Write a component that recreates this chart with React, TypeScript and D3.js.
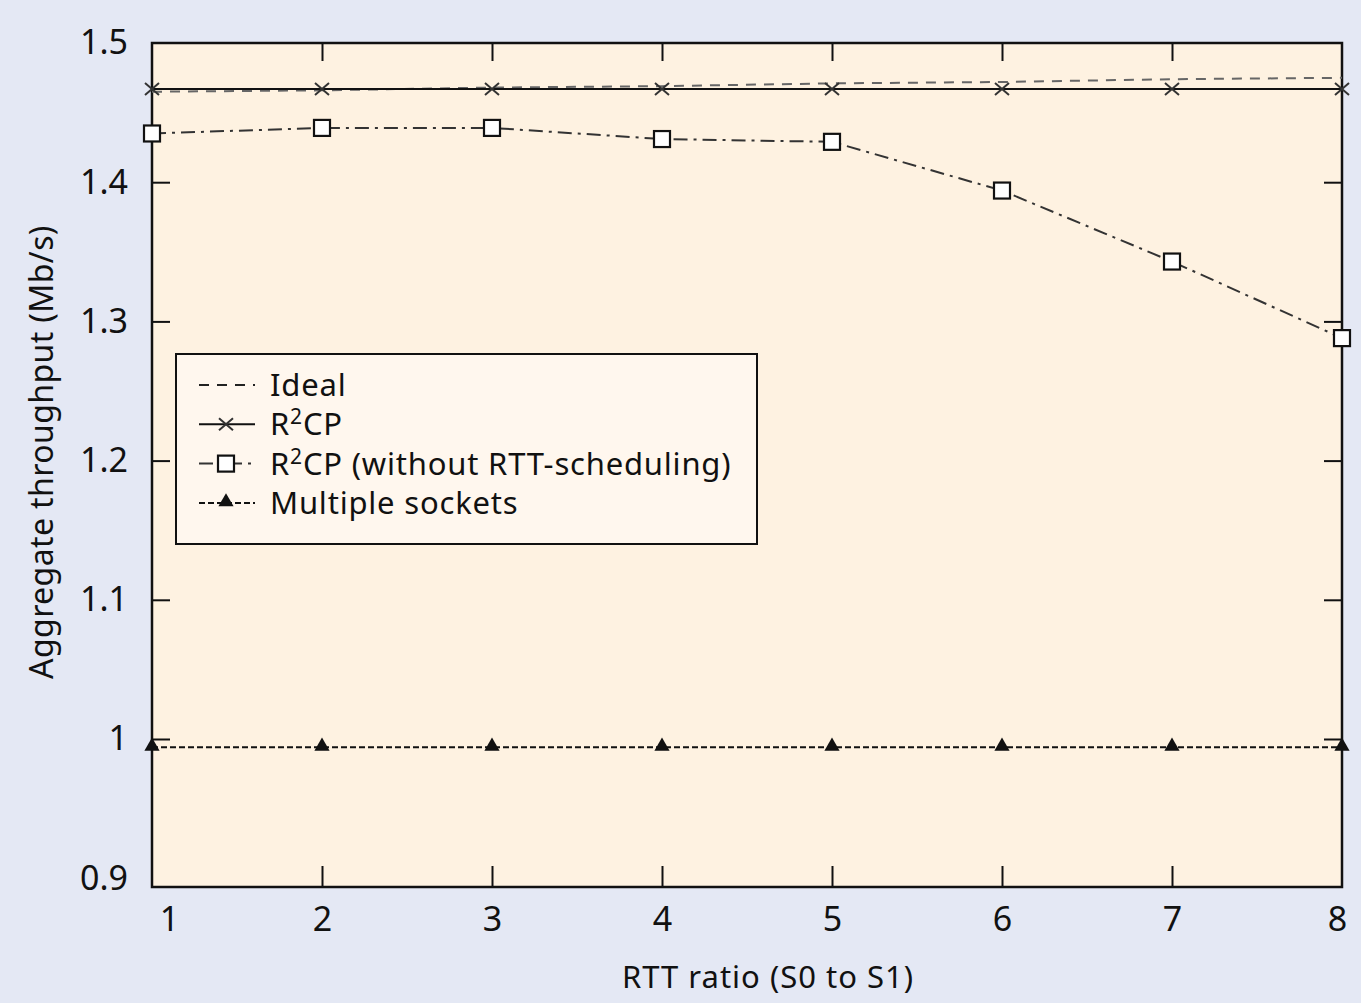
import React, { useEffect, useRef } from 'react';
import * as d3 from 'd3';

// RTT ratio on the x axis
const rttRatio = [1, 2, 3, 4, 5, 6, 7, 8];

// aggregate throughput (Mb/s), one list per curve
const ideal = [1.465, 1.466, 1.468, 1.469, 1.471, 1.472, 1.474, 1.475];
const r2cp = [1.467, 1.467, 1.467, 1.467, 1.467, 1.467, 1.467, 1.467];
const r2cpNoRtt = [1.435, 1.439, 1.439, 1.431, 1.429, 1.394, 1.343, 1.288];
const multipleSockets = [0.994, 0.994, 0.994, 0.994, 0.994, 0.994, 0.994, 0.994];

const yTicks = [0.9, 1, 1.1, 1.2, 1.3, 1.4, 1.5];
const yInnerTicks = [1, 1.1, 1.2, 1.3, 1.4];
const xInnerTicks = [2, 3, 4, 5, 6, 7];

const FONT = '"Noto Sans", "Open Sans", sans-serif';

const App = () => {
  const ref = useRef<SVGSVGElement>(null);

  useEffect(() => {
    drawChart();
  }, []);

  const drawChart = () => {
    const svg = d3.select(ref.current);
    svg.selectAll('*').remove();

    const W = 1361;
    const H = 1003;
    const margin = { top: 43, right: 19, bottom: 116, left: 152 };
    const x0 = margin.left;
    const x1 = W - margin.right;
    const y0 = margin.top;
    const y1 = H - margin.bottom;

    const x = d3.scaleLinear().domain([1, 8]).range([x0, x1]);
    // keep 1.5 on the top border and 1.0 where the reference puts it
    const y = d3.scaleLinear().domain([1.0, 1.5]).range([739, y0]);

    svg.append('rect').attr('width', W).attr('height', H).attr('fill', '#e4e8f4');
    svg.append('rect')
      .attr('x', x0).attr('y', y0)
      .attr('width', x1 - x0).attr('height', y1 - y0)
      .attr('fill', '#fef2e1');

    // tick marks, all pointing inward
    const tickStyle = (g: any) => {
      g.select('.domain').remove();
      g.selectAll('line').attr('stroke', '#111').attr('stroke-width', 2);
    };
    svg.append('g').attr('transform', `translate(${x0},0)`)
      .call(d3.axisLeft(y).tickValues(yInnerTicks).tickSize(-18).tickFormat(() => ''))
      .call(tickStyle);
    svg.append('g').attr('transform', `translate(${x1},0)`)
      .call(d3.axisRight(y).tickValues(yInnerTicks).tickSize(-18).tickFormat(() => ''))
      .call(tickStyle);
    svg.append('g').attr('transform', `translate(0,${y0})`)
      .call(d3.axisTop(x).tickValues(xInnerTicks).tickSize(-18).tickFormat(() => ''))
      .call(tickStyle);
    svg.append('g').attr('transform', `translate(0,${y1})`)
      .call(d3.axisBottom(x).tickValues(xInnerTicks).tickSize(-21).tickFormat(() => ''))
      .call(tickStyle);

    // tick labels
    const yLab = svg.append('g').attr('transform', `translate(${x0},0)`)
      .call(d3.axisLeft(y).tickValues(yTicks).tickSize(0).tickPadding(24).tickFormat((d: any) => String(d)));
    yLab.select('.domain').remove();
    yLab.selectAll('text').attr('font-family', FONT).attr('font-size', 34).attr('fill', '#111');

    const xLab = svg.append('g').attr('transform', `translate(0,${y1})`)
      .call(d3.axisBottom(x).tickValues(rttRatio).tickSize(0).tickPadding(20).tickFormat((d: any) => String(d)));
    xLab.select('.domain').remove();
    xLab.selectAll('text').attr('font-family', FONT).attr('font-size', 34).attr('fill', '#111')
      .attr('dx', (d: any) => (d === 1 ? 17 : d === 8 ? -5 : 0));

    // frame
    svg.append('rect')
      .attr('x', x0).attr('y', y0)
      .attr('width', x1 - x0).attr('height', y1 - y0)
      .attr('fill', 'none').attr('stroke', '#111').attr('stroke-width', 2.5);

    // axis titles
    svg.append('text')
      .attr('x', 768).attr('y', 988)
      .attr('text-anchor', 'middle')
      .attr('font-family', FONT).attr('font-size', 31).attr('letter-spacing', 1)
      .attr('fill', '#111')
      .text('RTT ratio (S0 to S1)');
    svg.append('text')
      .attr('transform', `translate(53,452) rotate(-90)`)
      .attr('text-anchor', 'middle')
      .attr('font-family', FONT).attr('font-size', 32).attr('letter-spacing', 0.4)
      .attr('fill', '#111')
      .text('Aggregate throughput (Mb/s)');

    const series = [
      { name: 'Ideal', values: ideal, color: '#666', dash: '10,8', marker: 'none' },
      { name: 'R2CP', values: r2cp, color: '#111', dash: null, marker: 'cross' },
      { name: 'R2CP (without RTT-scheduling)', values: r2cpNoRtt, color: '#333', dash: '14,6,3,6', marker: 'square' },
      { name: 'Multiple sockets', values: multipleSockets, color: '#111', dash: '6,3', marker: 'triangle' },
    ];

    const line = d3.line<number>()
      .x((_, i) => x(rttRatio[i]))
      .y(d => y(d))
      .curve(d3.curveLinear);

    const drawMarker = (g: any, kind: string, cx: number, cy: number) => {
      if (kind === 'cross') {
        g.append('path')
          .attr('d', `M${cx - 7},${cy - 6}L${cx + 7},${cy + 6}M${cx - 7},${cy + 6}L${cx + 7},${cy - 6}`)
          .attr('stroke', '#333').attr('stroke-width', 2).attr('fill', 'none');
      } else if (kind === 'square') {
        g.append('rect')
          .attr('x', cx - 8).attr('y', cy - 8).attr('width', 16).attr('height', 16)
          .attr('fill', '#fff').attr('stroke', '#111').attr('stroke-width', 2.2);
      } else if (kind === 'triangle') {
        g.append('path')
          .attr('transform', `translate(${cx},${cy - 1})`)
          .attr('d', d3.symbol().type(d3.symbolTriangle).size(100)())
          .attr('fill', '#111');
      }
    };

    const plot = svg.append('g');
    series.forEach(s => {
      plot.append('path')
        .datum(s.values)
        .attr('d', line)
        .attr('fill', 'none')
        .attr('stroke', s.color)
        .attr('stroke-width', 2)
        .attr('stroke-dasharray', s.dash);
      s.values.forEach((v, i) => drawMarker(plot, s.marker, x(rttRatio[i]), y(v)));
    });

    // legend
    const legend = svg.append('g');
    legend.append('rect')
      .attr('x', 176).attr('y', 354).attr('width', 581).attr('height', 190)
      .attr('fill', '#fff7ee').attr('stroke', '#111').attr('stroke-width', 2);
    series.forEach((s, i) => {
      const cy = 385 + i * 39.3;
      legend.append('line')
        .attr('x1', 199).attr('x2', 255).attr('y1', cy).attr('y2', cy)
        .attr('stroke', s.name === 'Ideal' ? '#222' : s.color).attr('stroke-width', 2)
        .attr('stroke-dasharray', s.dash);
      drawMarker(legend, s.marker, 226, cy);
      const t = legend.append('text')
        .attr('x', 270).attr('y', cy).attr('dy', '0.36em')
        .attr('font-family', FONT).attr('font-size', 31).attr('letter-spacing', 0.8)
        .attr('fill', '#111');
      if (s.name.startsWith('R2CP')) {
        t.append('tspan').text('R');
        t.append('tspan').attr('font-size', 21).attr('dy', -11).text('2');
        t.append('tspan').attr('dy', 11).text('CP' + s.name.slice(4));
      } else {
        t.text(s.name);
      }
    });
  };

  return (
    <svg ref={ref} width={1361} height={1003} style={{ position: 'absolute', left: 0, top: 0 }} />
  );
};

export default App;
